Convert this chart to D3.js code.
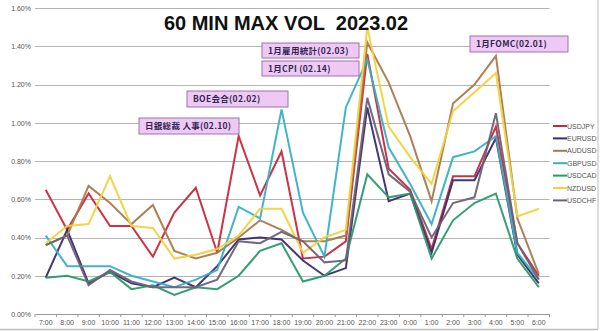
<!DOCTYPE html>
<html>
<head>
<meta charset="utf-8">
<script src="https://cdn.jsdelivr.net/npm/d3@7"></script>
<style>
  html, body { margin: 0; padding: 0; background: #fff; }
  svg { display: block; }
  .title { white-space: pre; }
</style>
</head>
<body>
<svg id="chart" width="600" height="331"></svg>
<script>
// ---------- DATA ----------
const hours = ["7:00","8:00","9:00","10:00","11:00","12:00","13:00","14:00","15:00","16:00","17:00","18:00",
               "19:00","20:00","21:00","22:00","23:00","0:00","1:00","2:00","3:00","4:00","5:00","6:00"];
const yTicks = [0, 0.2, 0.4, 0.6, 0.8, 1.0, 1.2, 1.4, 1.6];
const seriesNames = ["USDJPY","EURUSD","AUDUSD","GBPUSD","USDCAD","NZDUSD","USDCHF"];

const usdjpy = [0.65,0.44,0.63,0.46,0.46,0.30,0.53,0.66,0.32,0.93,0.62,0.85,0.29,0.30,0.38,1.36,0.76,0.65,0.34,0.72,0.72,0.98,0.37,0.20];
const eurusd = [0.19,0.44,0.16,0.22,0.16,0.14,0.19,0.14,0.25,0.39,0.40,0.39,0.28,0.20,0.24,1.08,0.59,0.63,0.32,0.70,0.70,0.92,0.31,0.16];
const audusd = [0.36,0.41,0.67,0.58,0.47,0.57,0.33,0.29,0.32,0.40,0.49,0.44,0.38,0.38,0.41,1.42,1.21,0.93,0.59,1.10,1.20,1.35,0.50,0.21];
const gbpusd = [0.41,0.25,0.25,0.25,0.20,0.17,0.14,0.18,0.23,0.56,0.50,1.07,0.53,0.30,1.08,1.33,0.87,0.68,0.47,0.82,0.85,0.93,0.32,0.18];
const usdcad = [0.19,0.20,0.17,0.22,0.13,0.15,0.10,0.14,0.13,0.20,0.33,0.37,0.17,0.20,0.29,0.73,0.61,0.63,0.29,0.49,0.58,0.63,0.29,0.14];
const nzdusd = [0.37,0.46,0.47,0.72,0.46,0.45,0.29,0.31,0.34,0.41,0.55,0.55,0.32,0.40,0.44,1.50,0.98,0.82,0.68,1.06,1.16,1.26,0.51,0.55];
const usdchf = [0.36,0.41,0.15,0.23,0.17,0.14,0.14,0.14,0.18,0.38,0.37,0.43,0.38,0.27,0.28,1.13,0.73,0.64,0.40,0.58,0.61,1.05,0.37,0.18];

const titleText = "60 MIN MAX VOL  2023.02";
const eventLabels = ["日銀総裁 人事(02.10)", "BOE会合(02.02)", "1月雇用統計(02.03)", "1月CPI (02.14)", "1月FOMC(02.01)"];

// ---------- STYLE / LAYOUT ----------
const seriesValues = [usdjpy, eurusd, audusd, gbpusd, usdcad, nzdusd, usdchf];
const colors = ["#c8283e", "#3b2c6c", "#a97a4c", "#38b0c6", "#2a9a6c", "#f2d23c", "#6e6276"];
const eventBoxes = [ // [x, y, w, h]
  [139, 118, 100, 16],
  [187, 91, 101, 16],
  [262, 43, 97, 15],
  [262, 61, 97, 15],
  [470, 36, 98, 16]
];

const svg = d3.select("#chart");
const plot = { left: 35, right: 549.5, top: 8, bottom: 314 };

// outer frame
svg.append("line").attr("x1", 598).attr("x2", 598).attr("y1", 0).attr("y2", 329)
  .attr("stroke", "#bdbdbd").attr("stroke-width", 1);
svg.append("line").attr("x1", 0).attr("x2", 598).attr("y1", 329.5).attr("y2", 329.5)
  .attr("stroke", "#bdbdbd").attr("stroke-width", 1.5);

const x = d3.scaleBand().domain(hours).range([plot.left, plot.right]).padding(0);
const y = d3.scaleLinear().domain([0, 1.6]).range([plot.bottom, plot.top]);

// gridlines
svg.append("g").selectAll("line").data(yTicks.filter(d => d > 0)).join("line")
  .attr("x1", plot.left).attr("x2", plot.right)
  .attr("y1", d => Math.round(y(d)) + 0.5).attr("y2", d => Math.round(y(d)) + 0.5)
  .attr("stroke", "#b4b4b4").attr("stroke-width", 1);

// y axis labels
const yAxis = d3.axisLeft(y).tickValues(yTicks).tickSize(0).tickPadding(4)
  .tickFormat(d => d3.format(".2f")(d) + "%");
const gy = svg.append("g").attr("transform", `translate(${plot.left},0)`).call(yAxis);
gy.select(".domain").remove();
gy.selectAll("text").attr("font-family", "Liberation Sans, Arial, sans-serif")
  .attr("font-size", 7).attr("fill", "#555");

// x axis
const xAxis = d3.axisBottom(x).tickSize(0).tickPadding(6);
const gx = svg.append("g").attr("transform", `translate(0,${plot.bottom})`).call(xAxis);
gx.select(".domain").attr("stroke", "#999");
gx.selectAll("text").attr("font-family", "Liberation Sans, Arial, sans-serif")
  .attr("font-size", 7).attr("fill", "#555");
// category boundary tick marks
svg.append("g").selectAll("line").data(hours.concat(["__end"])).join("line")
  .attr("x1", (d, i) => plot.left + i * x.step()).attr("x2", (d, i) => plot.left + i * x.step())
  .attr("y1", plot.bottom).attr("y2", plot.bottom + 3)
  .attr("stroke", "#999").attr("stroke-width", 1);

// lines
const line = d3.line()
  .x((d, i) => x(hours[i]) + x.bandwidth() / 2)
  .y(d => y(d));

svg.append("g").selectAll("path").data(seriesValues).join("path")
  .attr("d", d => line(d))
  .attr("fill", "none")
  .attr("stroke", (d, i) => colors[i])
  .attr("stroke-width", 2)
  .attr("stroke-linejoin", "miter")
  .attr("opacity", 0.95);

// legend
const lg = svg.append("g").selectAll("g").data(seriesNames).join("g")
  .attr("transform", (d, i) => `translate(553,${126 + i * 12.4})`);
lg.append("line").attr("x1", 0).attr("x2", 14).attr("y1", 0).attr("y2", 0)
  .attr("stroke", (d, i) => colors[i]).attr("stroke-width", 2);
lg.append("text").attr("x", 14).attr("y", 2.5).text(d => d)
  .attr("font-family", "Liberation Sans, Arial, sans-serif").attr("font-size", 7).attr("fill", "#555");

// title
svg.append("text").attr("class", "title").attr("x", 286).attr("y", 30).attr("text-anchor", "middle")
  .attr("font-family", "Liberation Sans, Arial, sans-serif").attr("font-weight", "bold")
  .attr("font-size", 20).attr("fill", "#111").text(titleText);

// event annotation boxes
const ev = svg.append("g").selectAll("g").data(eventLabels).join("g")
  .attr("transform", (d, i) => `translate(${eventBoxes[i][0]},${eventBoxes[i][1]})`);
ev.append("rect")
  .attr("width", (d, i) => eventBoxes[i][2]).attr("height", (d, i) => eventBoxes[i][3])
  .attr("fill", "#eec9f4").attr("stroke", "#9e72ae").attr("stroke-width", 1);
ev.append("text")
  .attr("x", 6).attr("y", (d, i) => eventBoxes[i][3] / 2 + 3.2)
  .attr("font-family", "Noto Sans CJK JP, sans-serif").attr("font-weight", "bold")
  .attr("letter-spacing", 0.3)
  .attr("font-size", 8.5).attr("fill", "#2e2650").text(d => d);
</script>
</body>
</html>
